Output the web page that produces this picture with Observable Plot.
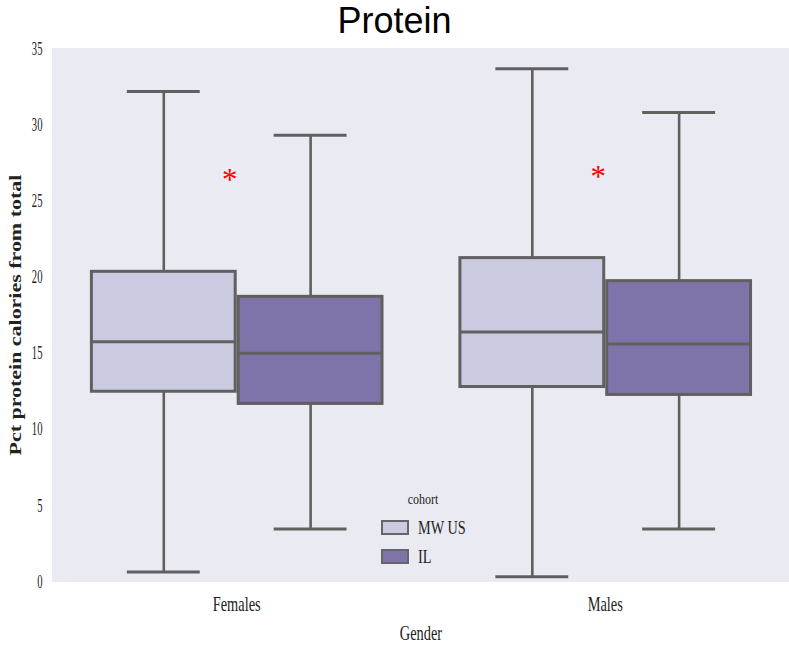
<!DOCTYPE html>
<html>
<head>
<meta charset="utf-8">
<script src="https://cdn.jsdelivr.net/npm/d3@7"></script>
<script src="https://cdn.jsdelivr.net/npm/@observablehq/plot@0.6"></script>
<style>
  body { margin: 0; background: #fff; }
  #fig { position: relative; width: 789px; height: 646px; overflow: hidden; }
  #title { position: absolute; left: 0; top: 1px; width: 789px; text-align: center;
           font-family: "Liberation Sans", Arial, sans-serif; font-size: 36px; line-height: 40px; color: #000; }
  #legend { position: absolute; left: 0; top: 0; font-family: "Liberation Serif", serif; color: #222; }
  #legend .lt { position: absolute; left: 388px; top: 492px; width: 70px; text-align: center; font-size: 15px; line-height: 15px;
                transform: scaleX(0.8); }
  #legend .sw { position: absolute; left: 381px; width: 24px; height: 11px; border: 2px solid #666; }
  #legend .lab { position: absolute; left: 418px; font-size: 19px; line-height: 18px; white-space: nowrap;
                 transform: scaleX(0.75); transform-origin: left center; }
  svg text { font-family: "Liberation Serif", serif; }
</style>
</head>
<body>
<div id="fig">
  <div id="title">Protein</div>
</div>
<script>
// Box-plot summaries of percent of calories from protein, by gender and cohort
const genders = ["Females", "Males"];
const cohorts = ["MW US", "IL"];
const boxGender = ["Females", "Females", "Males", "Males"];
const boxCohort = ["MW US", "IL", "MW US", "IL"];
const whiskerLow = [0.64, 3.47, 0.33, 3.47];
const quartile1 = [12.47, 11.67, 12.78, 12.26];
const medians = [15.75, 14.99, 16.39, 15.6];
const quartile3 = [20.34, 18.7, 21.24, 19.73];
const whiskerHigh = [32.18, 29.3, 33.67, 30.8];
const cohortColors = ["#CACBE0", "#7E74A9"];
const yTicks = [0, 5, 10, 15, 20, 25, 30, 35];

// significance markers
const starGender = ["Females", "Males"];
const starY = [26.6, 26.85];

const boxes = boxGender.map((g, i) => ({
  gender: g, cohort: boxCohort[i],
  low: whiskerLow[i], q1: quartile1[i], median: medians[i], q3: quartile3[i], high: whiskerHigh[i]
}));
const stars = starGender.map((g, i) => ({gender: g, y: starY[i]}));

const lineColor = "#606060";
const textColor = "#222";
const capInset = 37;

const chart = Plot.plot({
  width: 790,
  height: 646,
  marginTop: 48,
  marginBottom: 64,
  marginLeft: 52,
  marginRight: 0,
  style: {background: "transparent", fontFamily: "Liberation Serif, serif", color: textColor},
  fx: {domain: genders, padding: 0, label: null},
  x: {domain: cohorts, paddingInner: 0, paddingOuter: 0.25, axis: null},
  y: {domain: [0, 35], label: null},
  color: {domain: cohorts, range: cohortColors},
  marks: [
    Plot.frame({fill: "#EAEAF2", stroke: null, shapeRendering: "crispEdges"}),
    // whiskers
    Plot.ruleX(boxes, {fx: "gender", x: "cohort", y1: "low", y2: "q1", stroke: lineColor, strokeWidth: 2.6}),
    Plot.ruleX(boxes, {fx: "gender", x: "cohort", y1: "q3", y2: "high", stroke: lineColor, strokeWidth: 2.6}),
    Plot.tickY(boxes, {fx: "gender", x: "cohort", y: "low", stroke: lineColor, strokeWidth: 3, insetLeft: capInset, insetRight: capInset}),
    Plot.tickY(boxes, {fx: "gender", x: "cohort", y: "high", stroke: lineColor, strokeWidth: 3, insetLeft: capInset, insetRight: capInset}),
    // boxes and medians
    Plot.barY(boxes, {fx: "gender", x: "cohort", y1: "q1", y2: "q3", fill: "cohort", stroke: lineColor, strokeWidth: 3, insetLeft: 1.5, insetRight: 1.5}),
    Plot.tickY(boxes, {fx: "gender", x: "cohort", y: "median", stroke: lineColor, strokeWidth: 3, insetLeft: 1.5, insetRight: 1.5}),
    Plot.text(stars, {fx: "gender", y: "y", text: () => "*", fill: "#FF0000", fontSize: 31, fontFamily: "Liberation Sans, Arial, sans-serif", dx: -7, dy: 4}),
    // axes
    Plot.axisY({ticks: yTicks, tickSize: 0, tickPadding: 10, fontSize: 19, label: null}),
    Plot.axisFx({anchor: "bottom", tickSize: 0, tickPadding: 15, fontSize: 20, label: null}),
    Plot.text(["Gender"], {fx: ["Males"], frameAnchor: "bottom-left", dy: 58, fontSize: 20, textAnchor: "middle", fill: textColor}),
    Plot.text(["Pct protein calories from total"], {fx: ["Females"], frameAnchor: "left", textAnchor: "middle", dx: -37, rotate: -90, fontSize: 22, fontWeight: "bold", fill: textColor})
  ]
});

// narrow the serif glyphs horizontally, keeping each label's anchor point
function squeeze(el, sx, sy) {
  const t = el.getAttribute("transform") || "";
  let x = 0, y = 0;
  const ax = el.getAttribute("x"), ay = el.getAttribute("y");
  if (ax !== null && isFinite(+ax)) { x = +ax; el.removeAttribute("x"); }
  if (ay !== null && isFinite(+ay)) { y = +ay; el.removeAttribute("y"); }
  el.setAttribute("transform", `${t} translate(${x},${y}) scale(${sx},${sy})`);
}
chart.querySelectorAll("text").forEach((el) => {
  const s = el.textContent;
  if (s === "*") return;
  if (s === "Pct protein calories from total") squeeze(el, 1, 0.72);
  else if (/^\d+$/.test(s)) squeeze(el, 0.56, 1);
  else squeeze(el, 0.72, 1);
});

const fig = document.getElementById("fig");
fig.insertBefore(chart, fig.firstChild);

// cohort legend
const legend = document.createElement("div");
legend.id = "legend";
const lt = document.createElement("div");
lt.className = "lt";
lt.textContent = "cohort";
legend.appendChild(lt);
const swatchTops = [520, 549];
cohorts.forEach((c, i) => {
  const sw = document.createElement("div");
  sw.className = "sw";
  sw.style.top = swatchTops[i] + "px";
  sw.style.background = cohortColors[i];
  legend.appendChild(sw);
  const lab = document.createElement("div");
  lab.className = "lab";
  lab.style.top = (swatchTops[i] - 1) + "px";
  lab.textContent = c;
  legend.appendChild(lab);
});
fig.appendChild(legend);
</script>
</body>
</html>
